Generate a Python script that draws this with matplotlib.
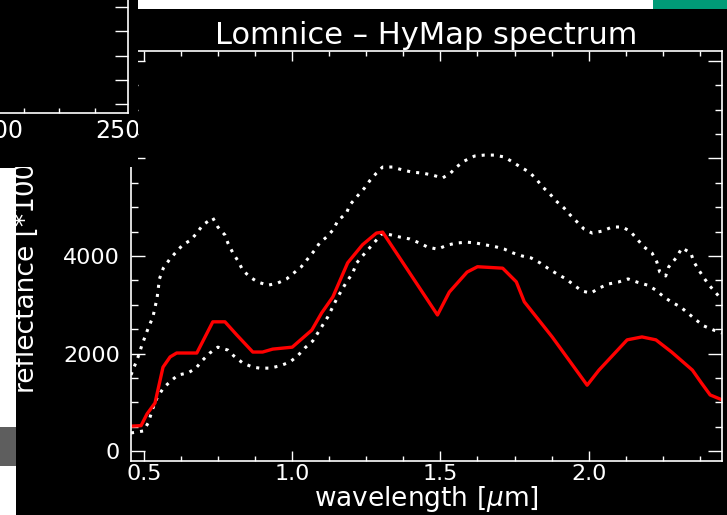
import matplotlib
matplotlib.use("Agg")
import matplotlib.pyplot as plt
from matplotlib.patches import Rectangle
from matplotlib.ticker import MultipleLocator, FormatStrFormatter
from matplotlib.transforms import Bbox, TransformedBbox

W, H = 727, 515

# HyMap pixel spectrum at Lomnice, reflectance * 10000
wl_pixel = [0.456, 0.49, 0.51, 0.537, 0.564, 0.588, 0.61, 0.678, 0.732, 0.773,
            0.813, 0.867, 0.90, 0.934, 1.0, 1.066, 1.099, 1.137, 1.187, 1.237,
            1.284, 1.305, 1.49, 1.53, 1.59, 1.625, 1.71, 1.756, 1.783, 1.877,
            1.995, 2.035, 2.13, 2.18, 2.227, 2.28, 2.35, 2.38, 2.41, 2.45]
refl_pixel = [510, 520, 760, 985, 1720, 1930, 2010, 2010, 2650, 2650,
              2380, 2030, 2030, 2090, 2130, 2480, 2830, 3160, 3860, 4230,
              4470, 4490, 2790, 3260, 3670, 3780, 3750, 3470, 3060, 2340,
              1350, 1660, 2280, 2340, 2280, 2030, 1660, 1400, 1150, 1050]

# upper envelope (dotted)
wl_upper = [0.456, 0.48, 0.493, 0.514, 0.53, 0.544, 0.552, 0.565, 0.585, 0.605,
            0.63, 0.658, 0.678, 0.698, 0.732, 0.749, 0.773, 0.783, 0.80, 0.817,
            0.833, 0.857, 0.884, 0.918, 0.951, 0.981, 1.005, 1.03, 1.052, 1.076,
            1.092, 1.116, 1.14, 1.153, 1.183, 1.194, 1.217, 1.244, 1.261, 1.284,
            1.305, 1.338, 1.372, 1.405, 1.44, 1.473, 1.507, 1.534, 1.554, 1.581,
            1.615, 1.648, 1.682, 1.716, 1.743, 1.77, 1.8, 1.823, 1.845, 1.867,
            1.89, 1.917, 1.938, 1.965, 1.985, 2.012, 2.045, 2.08, 2.113, 2.14,
            2.163, 2.187, 2.214, 2.23, 2.24, 2.26, 2.27, 2.295, 2.315, 2.345,
            2.355, 2.372, 2.389, 2.409, 2.43, 2.45]
refl_upper = [1560, 1930, 2175, 2520, 2750, 3140, 3530, 3750, 3920, 4060,
              4225, 4330, 4470, 4635, 4780, 4595, 4430, 4265, 4060, 3900,
              3710, 3570, 3465, 3400, 3445, 3530, 3650, 3775, 3940, 4120,
              4265, 4390, 4550, 4720, 4880, 5045, 5210, 5395, 5540, 5700,
              5825, 5825, 5765, 5720, 5700, 5660, 5600, 5700, 5825, 5950,
              6050, 6070, 6070, 6030, 5930, 5825, 5720, 5580, 5415, 5290,
              5130, 4985, 4840, 4675, 4550, 4470, 4510, 4595, 4595, 4510,
              4350, 4185, 4060, 3880, 3670, 3590, 3775, 3960, 4165, 4060,
              3880, 3710, 3550, 3385, 3240, 3100]

# lower envelope (dotted)
wl_lower = [0.456, 0.497, 0.514, 0.53, 0.544, 0.565, 0.59, 0.615, 0.648, 0.675,
            0.698, 0.722, 0.749, 0.783, 0.803, 0.833, 0.867, 0.89, 0.924, 0.958,
            0.992, 1.018, 1.042, 1.069, 1.099, 1.12, 1.15, 1.167, 1.183, 1.204,
            1.217, 1.237, 1.278, 1.305, 1.335, 1.362, 1.396, 1.43, 1.456, 1.49,
            1.524, 1.554, 1.588, 1.621, 1.655, 1.689, 1.716, 1.746, 1.776, 1.806,
            1.837, 1.867, 1.894, 1.924, 1.951, 1.978, 2.008, 2.035, 2.066, 2.1,
            2.133, 2.163, 2.2, 2.227, 2.254, 2.28, 2.31, 2.335, 2.362, 2.389,
            2.422, 2.45]
refl_lower = [370, 410, 575, 880, 1090, 1290, 1435, 1560, 1600, 1700,
              1865, 2010, 2130, 2070, 1950, 1805, 1720, 1700, 1700, 1745,
              1825, 1950, 2110, 2255, 2545, 2750, 3120, 3300, 3465, 3650,
              3855, 4000, 4285, 4470, 4430, 4390, 4350, 4265, 4185, 4140,
              4225, 4265, 4285, 4265, 4225, 4185, 4140, 4060, 4000, 3960,
              3855, 3730, 3630, 3530, 3400, 3280, 3240, 3340, 3425, 3465,
              3530, 3465, 3400, 3300, 3160, 3055, 2955, 2830, 2690, 2565,
              2480, 2420]

# band-number axis of the image window behind
band_labels = [200, 250]
band_minor = [210, 225, 240]


def box(x0, y0, x1, y1):
    """pixel box (top-left origin) -> figure fraction rect"""
    return [x0 / W, 1 - y1 / H, (x1 - x0) / W, (y1 - y0) / H]


plt.rcParams['font.family'] = ['DejaVu Sans']
fig = plt.figure(figsize=(W / 100, H / 100), dpi=100, facecolor='black')

# --- spectrum plot ---
ax = fig.add_axes(box(131, 51, 722, 461), facecolor='black', zorder=0)
ax.plot(wl_upper, refl_upper, color='white', lw=2.2, linestyle=(0, (1, 2)),
        dash_capstyle='butt')
ax.plot(wl_lower, refl_lower, color='white', lw=2.2, linestyle=(0, (1, 2)),
        dash_capstyle='butt')
ax.plot(wl_pixel, refl_pixel, color='red', lw=2.4)

ax.set_xlim(0.456, 2.45)
ax.set_ylim(-205, 8205)
for s in ax.spines.values():
    s.set_color('white')
    s.set_linewidth(1.2)
ax.xaxis.set_major_locator(MultipleLocator(0.5))
ax.xaxis.set_minor_locator(MultipleLocator(0.125))
ax.xaxis.set_major_formatter(FormatStrFormatter('%.1f'))
ax.yaxis.set_major_locator(MultipleLocator(2000))
ax.yaxis.set_minor_locator(MultipleLocator(500))
ax.tick_params(which='both', direction='in', top=True, right=True,
               colors='white', width=1)
ax.tick_params(axis='x', which='major', length=7, pad=2, labelsize=16)
ax.tick_params(axis='x', which='minor', length=3.5)
ax.tick_params(axis='y', which='major', length=10, pad=8, labelsize=16)
ax.tick_params(axis='y', which='minor', length=5)

ax.set_title('Lomnice – HyMap spectrum', color='white', fontsize=22, pad=5)
ax.set_xlabel(r'wavelength [$\mu$m]', color='white', fontsize=19)
ax.xaxis.set_label_coords(0.5, -0.056)
ax.set_ylabel('reflectance [*10000]', color='white', fontsize=19)
ax.yaxis.set_label_coords(-0.154, 0.5)

# --- overlapping window in the upper left ---
fig.add_artist(Rectangle(box(0, 0, 138, 167)[:2], *box(0, 0, 138, 167)[2:],
                         transform=fig.transFigure, facecolor='black',
                         edgecolor='none', zorder=2))
fx = fig.add_axes(box(-172, -87, 128, 113), facecolor='black', zorder=3)
fx.set_xlim(126.1, 254.3)
fx.set_ylim(-0.371, 7.876)
fx.spines['left'].set_visible(False)
fx.spines['top'].set_visible(False)
for side in ('right', 'bottom'):
    fx.spines[side].set_color('white')
    fx.spines[side].set_linewidth(1.2)
fx.set_xticks(band_labels)
fx.set_xticks(band_minor, minor=True)
fx.yaxis.tick_right()
fx.yaxis.set_major_locator(MultipleLocator(1))
fx.tick_params(axis='x', which='major', length=0, pad=4, labelsize=17,
               colors='white')
fx.tick_params(axis='x', which='minor', direction='in', length=3.6,
               color='white', width=1)
fx.tick_params(axis='y', direction='in', length=9.5, color='white', width=1,
               labelright=False)
win_clip = TransformedBbox(Bbox.from_bounds(*box(0, 0, 138, 167)),
                           fig.transFigure)
for lbl in fx.get_xticklabels():
    lbl.set_clip_box(win_clip)
    lbl.set_clip_on(True)

# --- other window edges ---
for rect, col in [(box(138, 0, 653, 9), 'white'),
                  (box(653, 0, 727, 9), '#009b77'),
                  (box(0, 168, 16, 515), 'white'),
                  (box(0, 427, 16, 466), '#5e5e5e')]:
    fig.add_artist(Rectangle(rect[:2], rect[2], rect[3],
                             transform=fig.transFigure, facecolor=col,
                             edgecolor='none', zorder=4))

fig.savefig('out.png', dpi=100, facecolor='black')
